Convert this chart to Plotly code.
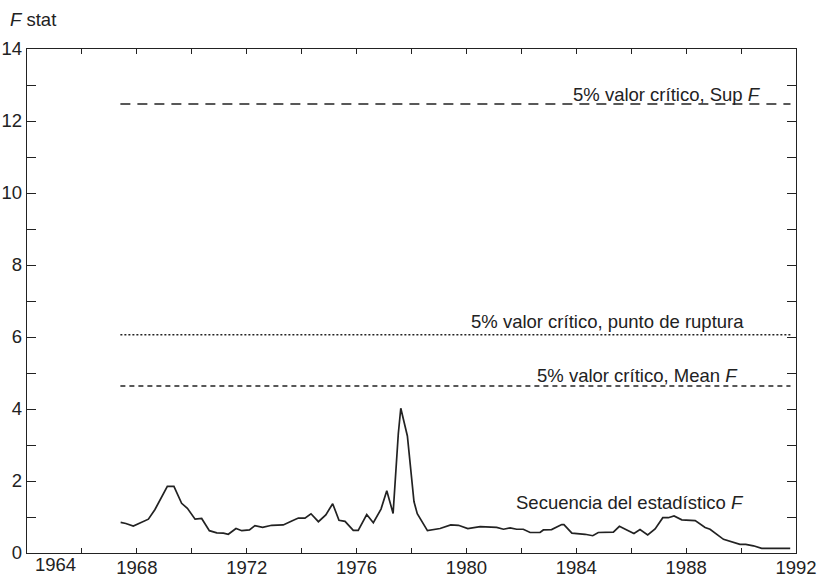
import plotly.graph_objects as go

# ---- data ----
years = [1967.41, 1967.6, 1967.87, 1968.18, 1968.42, 1968.66, 1968.9, 1969.11, 1969.35, 1969.63,
         1969.84, 1970.12, 1970.36, 1970.64, 1970.91, 1971.15, 1971.33, 1971.61, 1971.82, 1972.1,
         1972.3, 1972.58, 1972.91, 1973.33, 1973.64, 1973.88, 1974.12, 1974.34, 1974.61, 1974.88,
         1975.13, 1975.36, 1975.58, 1975.88, 1976.06, 1976.37, 1976.61, 1976.89, 1977.1, 1977.33,
         1977.52, 1977.61, 1977.85, 1977.97, 1978.09, 1978.21, 1978.58, 1979.04, 1979.43, 1979.71,
         1980.05, 1980.5, 1981.1, 1981.35, 1981.59, 1981.83, 1982.07, 1982.32, 1982.68, 1982.8,
         1983.1, 1983.47, 1983.55, 1983.84, 1984.32, 1984.6, 1984.8, 1985.35, 1985.57, 1985.84,
         1986.1, 1986.32, 1986.6, 1986.87, 1987.15, 1987.35, 1987.56, 1987.84, 1988.33, 1988.69,
         1988.87, 1989.36, 1989.66, 1989.96, 1990.17, 1990.45, 1990.75, 1991.3, 1991.79]
f_stat = [0.85, 0.82, 0.75, 0.85, 0.94, 1.21, 1.55, 1.85, 1.85, 1.38,
          1.24, 0.94, 0.96, 0.62, 0.56, 0.55, 0.52, 0.68, 0.62, 0.64,
          0.76, 0.71, 0.77, 0.78, 0.89, 0.97, 0.97, 1.09, 0.87, 1.06,
          1.37, 0.91, 0.88, 0.63, 0.63, 1.07, 0.84, 1.22, 1.73, 1.10,
          3.32, 4.02, 3.25, 2.35, 1.43, 1.09, 0.62, 0.68, 0.78, 0.77,
          0.68, 0.73, 0.71, 0.66, 0.70, 0.66, 0.66, 0.57, 0.57, 0.64,
          0.65, 0.79, 0.79, 0.55, 0.52, 0.48, 0.57, 0.58, 0.74, 0.64,
          0.54, 0.65, 0.50, 0.67, 0.98, 0.98, 1.03, 0.92, 0.90, 0.71,
          0.66, 0.38, 0.30, 0.24, 0.24, 0.20, 0.13, 0.13, 0.13]

crit_span = [1967.4, 1991.8]
crit_sup_f = 12.47
crit_break = 6.06
crit_mean_f = 4.64

x_ticks = list(range(1964, 1993, 2))
x_labels = ["" if (v % 4 or v == 1964) else str(v) for v in x_ticks]
y_ticks = list(range(0, 15))
y_labels = [str(v) if v % 2 == 0 else "" for v in y_ticks]

FONT = "Liberation Sans, Arial, sans-serif"
INK = "#222222"
FS = 18.5

fig = go.Figure()
fig.add_trace(go.Scatter(x=crit_span, y=[crit_sup_f] * 2, mode="lines",
                         line=dict(color=INK, width=1.5, dash="10px,7px"), hoverinfo="skip"))
fig.add_trace(go.Scatter(x=crit_span, y=[crit_break] * 2, mode="lines",
                         line=dict(color=INK, width=1.5, dash="2px,2px"), hoverinfo="skip"))
fig.add_trace(go.Scatter(x=crit_span, y=[crit_mean_f] * 2, mode="lines",
                         line=dict(color=INK, width=1.5, dash="5px,4px"), hoverinfo="skip"))
fig.add_trace(go.Scatter(x=years, y=f_stat, mode="lines",
                         line=dict(color=INK, width=1.7)))

ann = [
    ("5% valor crítico, Sup <i>F</i>", 1990.8, 12.75),
    ("5% valor crítico, punto de ruptura", 1990.18, 6.44),
    ("5% valor crítico, Mean <i>F</i>", 1989.97, 4.92),
    ("Secuencia del estadístico <i>F</i>", 1990.18, 1.39),
]
for text, x, y in ann:
    fig.add_annotation(x=x, y=y, text=text, showarrow=False, xanchor="right",
                       yanchor="middle", font=dict(size=FS, color=INK, family=FONT))

fig.add_annotation(x=1965.02, y=0, yref="paper", text="1964", showarrow=False,
                   xanchor="center", yanchor="top", yshift=1,
                   font=dict(size=FS, color=INK, family=FONT))
fig.add_annotation(x=-0.025, xref="paper", y=1.058, yref="paper", text="<i>F</i> stat",
                   showarrow=False, xanchor="left", yanchor="middle",
                   font=dict(size=FS, color=INK, family=FONT))

axis_common = dict(showgrid=False, zeroline=False, showline=True, linecolor=INK, linewidth=1.3,
                   mirror="ticks", ticks="inside", tickcolor=INK, tickwidth=1.2,
                   tickfont=dict(size=FS, color=INK, family=FONT), automargin=False)
fig.update_xaxes(range=[1964, 1992], tickmode="array", tickvals=x_ticks, ticktext=x_labels,
                 ticklen=5, ticklabelstandoff=-2, **axis_common)
fig.update_yaxes(range=[0, 14], tickmode="array", tickvals=y_ticks, ticktext=y_labels,
                 ticklen=9, **axis_common)

fig.update_layout(width=819, height=578, margin=dict(l=27, r=23, t=49, b=25),
                  paper_bgcolor="white", plot_bgcolor="white", showlegend=False,
                  font=dict(family=FONT, color=INK))

# remove the default page margin so the 819x578 figure fills the window exactly
fig.write_html("out.html", config={"displayModeBar": False},
               post_script="document.body.style.margin='0';document.body.style.overflow='hidden';")
